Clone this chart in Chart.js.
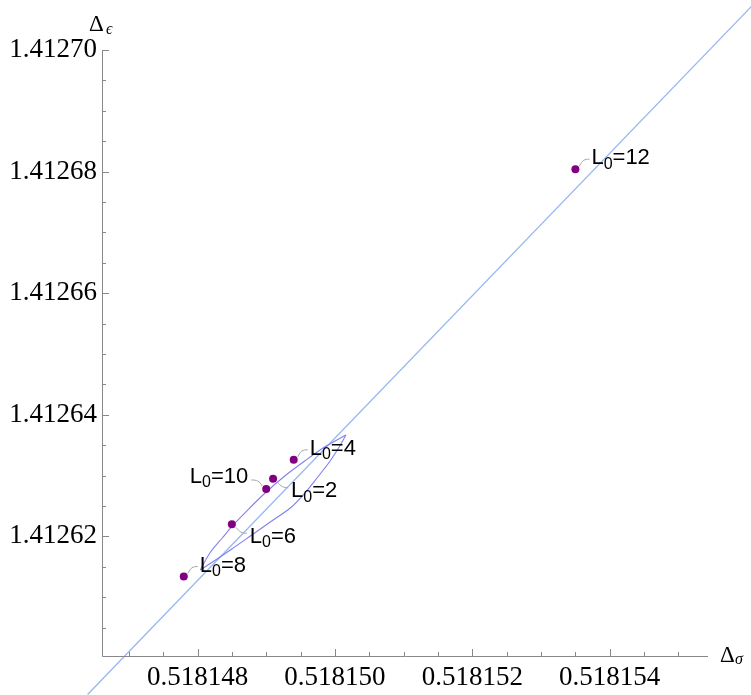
<!DOCTYPE html>
<html>
<head>
<meta charset="utf-8">
<script src="https://cdn.jsdelivr.net/npm/chart.js@4.4.0/dist/chart.umd.min.js"></script>
<style>
  html, body { margin: 0; padding: 0; background: #fff; }
  #wrap { width: 751px; height: 695px; }
</style>
</head>
<body>
<div id="wrap"><canvas id="chart" width="751" height="695"></canvas></div>
<script>
// purple points, one per L0
const l0Values = [2, 4, 6, 8, 10, 12];
const deltaSigma = [0.5181491, 0.5181494, 0.5181485, 0.5181478, 0.5181490, 0.5181535];
const deltaEpsilon = [1.4126295, 1.4126326, 1.4126220, 1.4126134, 1.4126278, 1.4126804];

// thin violet loop (upper branch, then lower branch back to the start)
const loopUpperX = [0.51814804, 0.51814818, 0.51814836, 0.51814852, 0.51814873, 0.51814900, 0.51814927, 0.51814956, 0.51814985, 0.51815016];
const loopUpperY = [1.41261447, 1.41261727, 1.41261974, 1.41262188, 1.41262434, 1.41262730, 1.41262993, 1.41263240, 1.41263470, 1.41263668];
const loopLowerX = [0.51815016, 0.51815007, 0.51814993, 0.51814975, 0.51814955, 0.51814935, 0.51814908, 0.51814879, 0.51814850, 0.51814824, 0.51814804];
const loopLowerY = [1.41263668, 1.41263487, 1.41263240, 1.41262977, 1.41262697, 1.41262467, 1.41262253, 1.41262023, 1.41261793, 1.41261595, 1.41261447];

// straight light blue line
const lineX = [0.5181464, 0.5181561];
const lineY = [1.4125940, 1.4127076];

// ticks
const xTicks = [0.518148, 0.518150, 0.518152, 0.518154];
const xTickLabels = ['0.518148', '0.518150', '0.518152', '0.518154'];
const yTicks = [1.41262, 1.41264, 1.41266, 1.41268, 1.41270];
const yTickLabels = ['1.41262', '1.41264', '1.41266', '1.41268', '1.41270'];
const xMinorStep = 0.5e-6;
const yMinorStep = 0.5e-5;

// label placement next to each point (style only)
const labelSide = ['below-right', 'above-right', 'below-right', 'above-right', 'above-left', 'above-right'];

const toXY = (xs, ys) => xs.map((x, i) => ({ x: x, y: ys[i] }));

const minorTicks = (step) => (scale) => {
  const ticks = [];
  const k0 = Math.ceil(scale.min / step - 1e-6);
  const k1 = Math.floor(scale.max / step + 1e-6);
  for (let k = k0; k <= k1; k++) ticks.push({ value: k * step });
  scale.ticks = ticks;
};

const findLabel = (values, labels, v, tol) => {
  const i = values.findIndex((t) => Math.abs(t - v) < tol);
  return i >= 0 ? labels[i] : '';
};

const axisPlugin = {
  id: 'axisPlugin',
  afterDraw(chart) {
    const { ctx, chartArea: a, scales } = chart;
    ctx.save();
    ctx.strokeStyle = '#888';
    ctx.lineWidth = 1;
    ctx.beginPath();
    ctx.moveTo(a.left + 0.5, a.top);
    ctx.lineTo(a.left + 0.5, a.bottom + 0.5);
    ctx.lineTo(a.right, a.bottom + 0.5);
    // inward tick marks
    scales.x.ticks.forEach((t) => {
      const px = Math.round(scales.x.getPixelForValue(t.value)) + 0.5;
      const major = findLabel(xTicks, xTickLabels, t.value, 1e-10) !== '';
      ctx.moveTo(px, a.bottom);
      ctx.lineTo(px, a.bottom - (major ? 7 : 4));
    });
    scales.y.ticks.forEach((t) => {
      const py = Math.round(scales.y.getPixelForValue(t.value)) + 0.5;
      const major = findLabel(yTicks, yTickLabels, t.value, 1e-9) !== '';
      ctx.moveTo(a.left, py);
      ctx.lineTo(a.left + (major ? 7 : 4), py);
    });
    ctx.stroke();

    // axis titles
    ctx.fillStyle = '#000';
    ctx.textBaseline = 'alphabetic';
    ctx.textAlign = 'left';
    ctx.font = '23px "Liberation Serif", "DejaVu Serif"';
    ctx.fillText('\u0394', 89, 31);
    ctx.fillText('\u0394', 720, 662);
    ctx.font = 'italic 16px "Liberation Serif", "DejaVu Serif"';
    ctx.fillText('\u03f5', 106, 34);
    ctx.fillText('\u03c3', 735, 664);
    ctx.restore();
  }
};

const labelPlugin = {
  id: 'labelPlugin',
  afterDatasetsDraw(chart) {
    const { ctx, scales } = chart;
    ctx.save();
    const big = '22px "Liberation Sans", Arial, sans-serif';
    const small = '16px "Liberation Sans", Arial, sans-serif';
    l0Values.forEach((v, i) => {
      const px = scales.x.getPixelForValue(deltaSigma[i]);
      const py = scales.y.getPixelForValue(deltaEpsilon[i]);
      const side = labelSide[i];
      // leader
      ctx.strokeStyle = '#a6a6a6';
      ctx.lineWidth = 1;
      ctx.beginPath();
      if (side === 'above-right') {
        ctx.moveTo(px + 4, py - 3);
        ctx.bezierCurveTo(px + 7, py - 9, px + 9, py - 10, px + 14, py - 10);
      } else if (side === 'below-right') {
        ctx.moveTo(px + 4, py + 3);
        ctx.bezierCurveTo(px + 8, py + 8, px + 10, py + 9, px + 15, py + 9);
      } else {
        ctx.moveTo(px - 4, py - 3);
        ctx.bezierCurveTo(px - 7, py - 8, px - 9, py - 9, px - 15, py - 9);
      }
      ctx.stroke();

      // text L_0=v
      const rest = '=' + v;
      ctx.font = big;
      const wL = ctx.measureText('L').width;
      const wR = ctx.measureText(rest).width;
      ctx.font = small;
      const wS = ctx.measureText('0').width;
      const total = wL + wS + wR;
      let tx, base;
      if (side === 'above-right') { tx = px + 16; base = py - 5; }
      else if (side === 'below-right') { tx = px + 18; base = py + 18.5; }
      else { tx = px - 18 - total; base = py - 6; }
      ctx.fillStyle = '#000';
      ctx.textAlign = 'left';
      ctx.textBaseline = 'alphabetic';
      ctx.font = big;
      ctx.fillText('L', tx, base);
      ctx.font = small;
      ctx.fillText('0', tx + wL, base + 4.5);
      ctx.font = big;
      ctx.fillText(rest, tx + wL + wS, base);
    });
    ctx.restore();
  }
};

new Chart(document.getElementById('chart'), {
  type: 'scatter',
  data: {
    datasets: [
      {
        label: 'L0 points',
        data: toXY(deltaSigma, deltaEpsilon),
        showLine: false,
        pointRadius: 4,
        pointBorderWidth: 0,
        pointBackgroundColor: '#800080',
        order: 0,
      },
      {
        label: 'loop upper',
        data: toXY(loopUpperX, loopUpperY),
        showLine: true,
        borderColor: 'rgb(128, 128, 240)',
        borderWidth: 1.1,
        pointRadius: 0,
        tension: 0.3,
        order: 1,
      },
      {
        label: 'loop lower',
        data: toXY(loopLowerX, loopLowerY),
        showLine: true,
        borderColor: 'rgb(128, 128, 240)',
        borderWidth: 1.1,
        pointRadius: 0,
        tension: 0.3,
        order: 1,
      },
      {
        label: 'line',
        data: toXY(lineX, lineY),
        showLine: true,
        borderColor: 'rgb(150, 183, 240)',
        borderWidth: 1.3,
        pointRadius: 0,
        clip: false,
        order: 2,
      },
    ],
  },
  options: {
    responsive: false,
    animation: false,
    events: [],
    layout: { padding: { top: 50, right: 43, left: 0, bottom: 0 } },
    plugins: {
      legend: { display: false },
      tooltip: { enabled: false },
    },
    scales: {
      x: {
        type: 'linear',
        min: 0.51814661,
        max: 0.51815543,
        grid: { display: false, drawTicks: false },
        border: { display: false },
        afterBuildTicks: minorTicks(xMinorStep),
        afterFit: (s) => { s.height = 39; },
        ticks: {
          autoSkip: false,
          maxRotation: 0,
          padding: 6,
          color: '#000',
          font: { family: '"Liberation Serif"', size: 27 },
          callback: (value) => findLabel(xTicks, xTickLabels, value, 1e-10),
        },
      },
      y: {
        type: 'linear',
        min: 1.41260033,
        max: 1.41270,
        grid: { display: false, drawTicks: false },
        border: { display: false },
        afterBuildTicks: minorTicks(yMinorStep),
        afterFit: (s) => { s.width = 102; },
        ticks: {
          autoSkip: false,
          padding: 5,
          color: '#000',
          font: { family: '"Liberation Serif"', size: 27 },
          callback: (value) => findLabel(yTicks, yTickLabels, value, 1e-9),
        },
      },
    },
  },
  plugins: [axisPlugin, labelPlugin],
});
</script>
</body>
</html>
